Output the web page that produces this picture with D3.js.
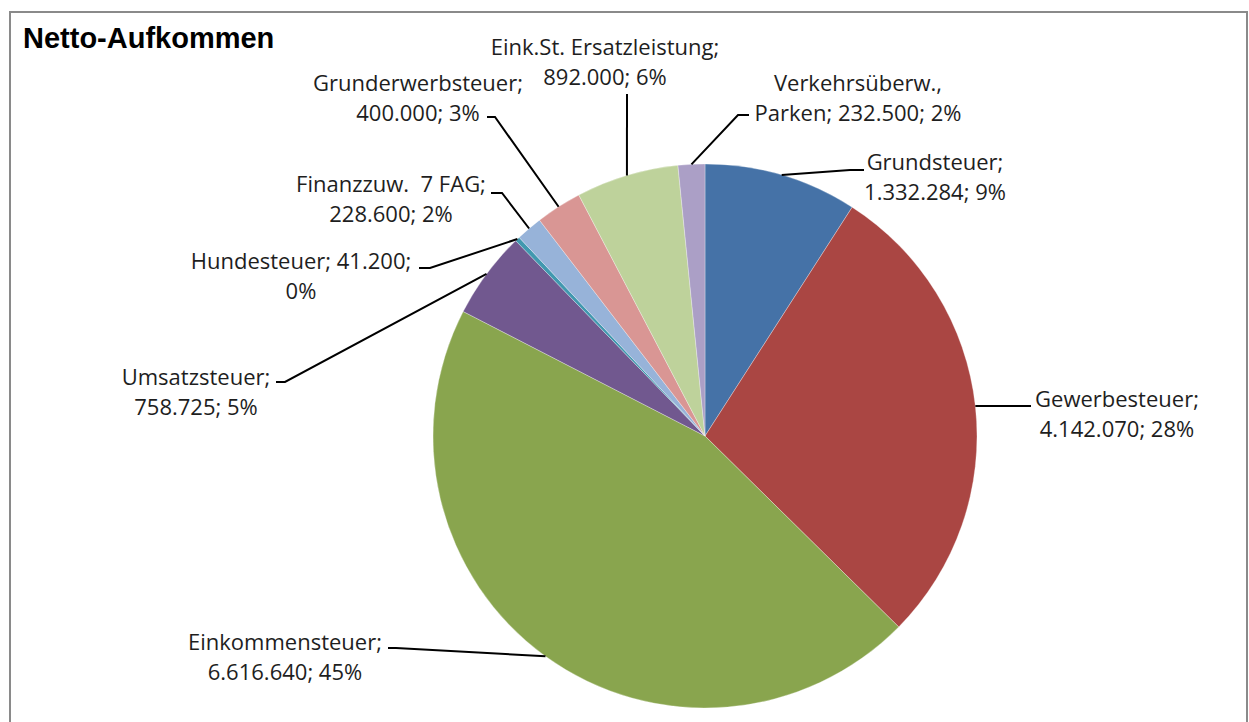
<!DOCTYPE html>
<html lang="de">

<head>
  <meta charset="utf-8">
  <title>Netto-Aufkommen</title>
  <script src="https://d3js.org/d3.v7.min.js"></script>
  <style>
    body { margin: 0; background: #fff; }
    text { white-space: pre; }
  </style>
</head>

<body>
  <script>
    // Daten
    var categories = ['Grundsteuer', 'Gewerbesteuer', 'Einkommensteuer', 'Umsatzsteuer', 'Hundesteuer',
      'Finanzzuw.  7 FAG', 'Grunderwerbsteuer', 'Eink.St. Ersatzleistung', 'Verkehrsüberw., Parken'];
    var values = [1332284, 4142070, 6616640, 758725, 41200, 228600, 400000, 892000, 232500];
    var colors = ['#4572a7', '#aa4643', '#89a54e', '#71588f', '#4198af', '#97b3d9', '#d99694', '#bed29b', '#ab9fc6'];

    // Beschriftungen: Position, Zeilenumbruch, Führungslinie (Knick + Ende)
    var labelPos = [
      { x: 935, y: 170, sep: '; ', n: 1, knee: [850, 170], end: [864, 170] },
      { x: 1117, y: 407, sep: '; ', n: 1, knee: [1031, 406], end: [1031, 406] },
      { x: 285, y: 650, sep: '; ', n: 1, knee: [396, 648], end: [388, 648] },
      { x: 196, y: 385, sep: '; ', n: 1, knee: [285, 382], end: [276, 382] },
      { x: 301, y: 269, sep: '; ', n: 2, knee: [430, 268], end: [419, 268] },
      { x: 391, y: 192, sep: '; ', n: 1, knee: [502, 193], end: [491, 193] },
      { x: 418, y: 91, sep: '; ', n: 1, knee: [495, 117], end: [487, 117] },
      { x: 605, y: 55, sep: '; ', n: 1, knee: [627, 94], end: [627, 94] },
      { x: 858, y: 91, sep: ', ', n: 1, knee: [738, 115], end: [749, 115] }
    ];

    var W = 1249, H = 722;
    var cx = 705, cy = 436, r = 272;

    var de = d3.formatLocale({ decimal: ',', thousands: '.', grouping: [3], currency: ['', ' €'] });
    var fmt = de.format(',d');
    var total = d3.sum(values);

    var svg = d3.select('body').append('svg')
      .attr('width', W)
      .attr('height', H);

    // Rahmen
    svg.append('rect')
      .attr('x', 10).attr('y', 12)
      .attr('width', 1237).attr('height', 730)
      .attr('fill', 'none')
      .attr('stroke', '#8a8a8a')
      .attr('stroke-width', 2);

    svg.append('text')
      .attr('x', 23).attr('y', 48)
      .attr('font-family', 'Liberation Sans, Arial, sans-serif')
      .attr('font-weight', 'bold')
      .attr('font-size', 29)
      .attr('fill', '#000')
      .text('Netto-Aufkommen');

    var pie = d3.pie().sort(null).value(function(d) { return d; });
    var arcs = pie(values);
    var arc = d3.arc().innerRadius(0).outerRadius(r);
    var edge = d3.arc().innerRadius(r).outerRadius(r);

    var g = svg.append('g').attr('transform', 'translate(' + [cx, cy] + ')');
    g.selectAll('path.slice')
      .data(arcs)
      .enter().append('path')
      .attr('class', 'slice')
      .attr('d', arc)
      .attr('fill', function(d, i) { return colors[i]; })
      .attr('stroke', '#fff')
      .attr('stroke-width', 0.6)
      .attr('stroke-opacity', 0.5);

    // Führungslinien
    svg.selectAll('path.leader')
      .data(arcs)
      .enter().append('path')
      .attr('class', 'leader')
      .attr('d', function(d, i) {
        var p = edge.centroid(d);
        var L = labelPos[i];
        return 'M' + [cx + p[0], cy + p[1]] + 'L' + L.knee + 'L' + L.end;
      })
      .attr('fill', 'none')
      .attr('stroke', '#000')
      .attr('stroke-width', 2);

    function split(str, sep, n) {
      var i = -1;
      for (var k = 0; k < n; k++) i = str.indexOf(sep, i + 1);
      return [str.slice(0, i + sep.length - 1), str.slice(i + sep.length)];
    }

    var labels = svg.selectAll('text.lbl')
      .data(arcs)
      .enter().append('text')
      .attr('class', 'lbl')
      .attr('text-anchor', 'middle')
      .attr('font-family', 'Open Sans, sans-serif')
      .attr('font-size', 22)
      .attr('fill', '#1e1e1e');

    labels.each(function(d, i) {
      var L = labelPos[i];
      var pct = Math.round(values[i] / total * 100) + '%';
      var full = categories[i] + '; ' + fmt(values[i]) + '; ' + pct;
      var lines = split(full, L.sep, L.n);
      d3.select(this).selectAll('tspan')
        .data(lines)
        .enter().append('tspan')
        .attr('x', L.x)
        .attr('y', function(t, j) { return L.y + j * 30; })
        .text(function(t) { return t; });
    });
  </script>
</body>

</html>
